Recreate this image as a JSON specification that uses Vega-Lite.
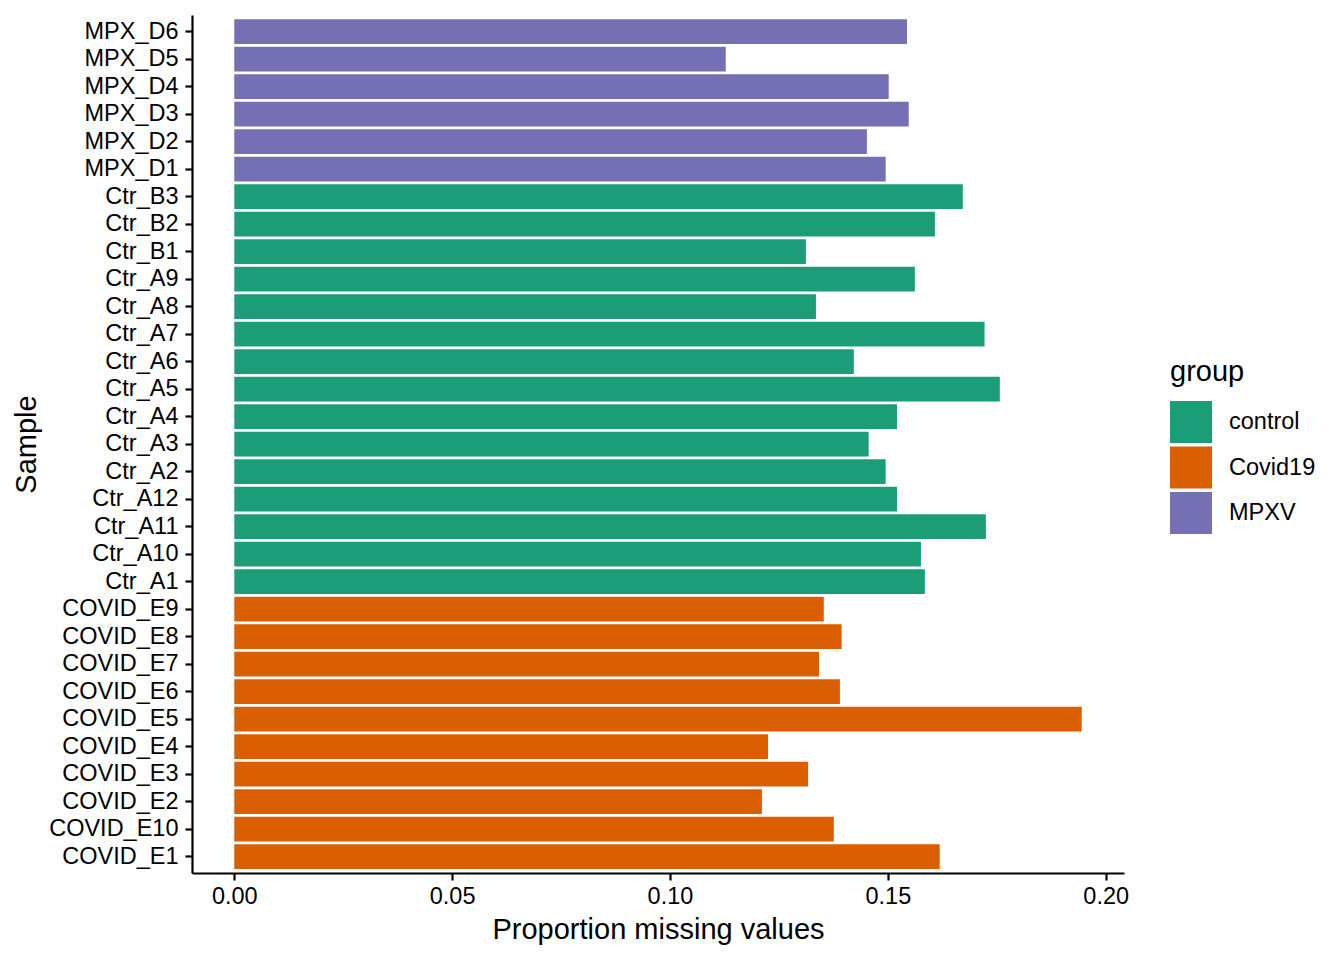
{
  "$schema": "https://vega.github.io/schema/vega-lite/v6.json",
  "width": 932,
  "height": 858,
  "autosize": {"type": "none"},
  "padding": {"left": 192, "top": 15, "right": 220, "bottom": 87},
  "background": "white",
  "config": {
    "view": {"stroke": null},
    "font": "Liberation Sans",
    "axis": {
      "grid": false,
      "domainColor": "black",
      "domainWidth": 2.2,
      "tickColor": "black",
      "tickWidth": 2.2,
      "tickSize": 7,
      "labelColor": "black",
      "labelFont": "Liberation Sans",
      "labelFontSize": 23.5,
      "titleFont": "Liberation Sans",
      "titleFontSize": 29,
      "titleFontWeight": "normal",
      "titleColor": "black"
    }
  },
  "data": {
    "values": [
      {"sample": "MPX_D6", "group": "MPXV", "prop": 0.1544},
      {"sample": "MPX_D5", "group": "MPXV", "prop": 0.1128},
      {"sample": "MPX_D4", "group": "MPXV", "prop": 0.1502},
      {"sample": "MPX_D3", "group": "MPXV", "prop": 0.1548},
      {"sample": "MPX_D2", "group": "MPXV", "prop": 0.1452},
      {"sample": "MPX_D1", "group": "MPXV", "prop": 0.1495},
      {"sample": "Ctr_B3", "group": "control", "prop": 0.1672},
      {"sample": "Ctr_B2", "group": "control", "prop": 0.1608},
      {"sample": "Ctr_B1", "group": "control", "prop": 0.1312},
      {"sample": "Ctr_A9", "group": "control", "prop": 0.1562},
      {"sample": "Ctr_A8", "group": "control", "prop": 0.1335},
      {"sample": "Ctr_A7", "group": "control", "prop": 0.1722},
      {"sample": "Ctr_A6", "group": "control", "prop": 0.1422},
      {"sample": "Ctr_A5", "group": "control", "prop": 0.1757},
      {"sample": "Ctr_A4", "group": "control", "prop": 0.1521},
      {"sample": "Ctr_A3", "group": "control", "prop": 0.1456},
      {"sample": "Ctr_A2", "group": "control", "prop": 0.1495},
      {"sample": "Ctr_A12", "group": "control", "prop": 0.1521},
      {"sample": "Ctr_A11", "group": "control", "prop": 0.1725},
      {"sample": "Ctr_A10", "group": "control", "prop": 0.1576},
      {"sample": "Ctr_A1", "group": "control", "prop": 0.1585},
      {"sample": "COVID_E9", "group": "Covid19", "prop": 0.1353},
      {"sample": "COVID_E8", "group": "Covid19", "prop": 0.1394},
      {"sample": "COVID_E7", "group": "Covid19", "prop": 0.1342},
      {"sample": "COVID_E6", "group": "Covid19", "prop": 0.1390},
      {"sample": "COVID_E5", "group": "Covid19", "prop": 0.1945},
      {"sample": "COVID_E4", "group": "Covid19", "prop": 0.1225},
      {"sample": "COVID_E3", "group": "Covid19", "prop": 0.1317},
      {"sample": "COVID_E2", "group": "Covid19", "prop": 0.1211},
      {"sample": "COVID_E10", "group": "Covid19", "prop": 0.1376},
      {"sample": "COVID_E1", "group": "Covid19", "prop": 0.1619}
    ]
  },
  "mark": {"type": "bar"},
  "encoding": {
    "y": {
      "field": "sample",
      "type": "nominal",
      "sort": null,
      "title": "Sample",
      "scale": {"paddingInner": 0.1, "paddingOuter": 0.15},
      "axis": {"labelPadding": 7, "titlePadding": 7}
    },
    "x": {
      "field": "prop",
      "type": "quantitative",
      "title": "Proportion missing values",
      "scale": {"domain": [-0.0097, 0.2042], "nice": false, "zero": false},
      "axis": {"values": [0, 0.05, 0.1, 0.15, 0.2], "format": ".2f", "labelPadding": 4, "titlePadding": 8}
    },
    "x2": {"datum": 0},
    "color": {
      "field": "group",
      "type": "nominal",
      "scale": {"domain": ["control", "Covid19", "MPXV"], "range": ["#1B9E77", "#D95F02", "#7570B3"]},
      "legend": {
        "title": "group",
        "orient": "none",
        "legendX": 978,
        "legendY": 343,
        "titleFontSize": 29,
        "titleFontWeight": "normal",
        "titleColor": "black",
        "titleFont": "Liberation Sans",
        "titlePadding": 14,
        "labelFontSize": 23.5,
        "labelColor": "black",
        "labelFont": "Liberation Sans",
        "labelOffset": 17,
        "symbolType": "square",
        "symbolSize": 1764,
        "symbolStrokeWidth": 0,
        "symbolOpacity": 1,
        "rowPadding": 3.5
      }
    }
  }
}
